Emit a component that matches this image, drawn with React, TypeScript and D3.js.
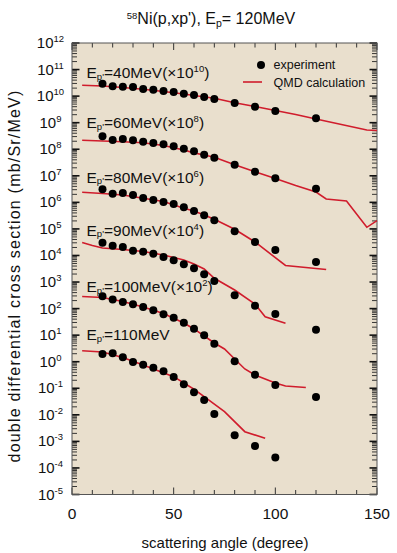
import React from "react";
import * as d3 from "d3";

// ---------- data ----------
const expAngles = [15, 20, 25, 30, 35, 40, 45, 50, 55, 60, 65, 70, 80, 90, 100, 120];
const exp40 = [2.94e10, 2.34e10, 2.27e10, 2.2e10, 1.85e10, 1.75e10, 1.56e10, 1.43e10, 1.23e10, 1.1e10, 9.3e9, 7.8e9, 5.5e9, 4.0e9, 2.75e9, 1.46e9];
const exp60 = [3.07e8, 2.23e8, 2.43e8, 2.17e8, 1.92e8, 1.72e8, 1.53e8, 1.29e8, 1.05e8, 8.4e7, 6.2e7, 4.8e7, 2.62e7, 1.43e7, 8.0e6, 3.27e6];
const exp80 = [3.1e6, 2.12e6, 2.25e6, 1.89e6, 1.46e6, 1.23e6, 1.03e6, 8.7e5, 6.5e5, 4.7e5, 3.26e5, 2.11e5, 8.1e4, 3.2e4, 1.61e4, 5.7e3];
const exp90 = [3.03e4, 2.33e4, 2.08e4, 1.51e4, 1.39e4, 1.17e4, 8.8e3, 6.6e3, 4.66e3, 3.29e3, 1.95e3, 1.09e3, 317, 129, 62.6, 16.1];
const exp100 = [290, 220, 177, 145, 115, 86, 61, 45.4, 29.4, 17.5, 9.9, 4.77, 1.04, 0.324, 0.133, 0.047];
const exp110 = [1.95, 2.08, 1.47, 0.975, 0.773, 0.596, 0.436, 0.266, 0.141, 0.0706, 0.0362, 0.0108, 0.0017, 6.7e-4, 2.48e-4];

const calc40Angles = [5, 15, 25, 35, 45, 55, 60, 70, 80, 90, 100, 110, 120, 145, 150];
const calc40 = [2.55e10, 2.4e10, 2.11e10, 1.81e10, 1.49e10, 1.2e10, 1.05e10, 8.3e9, 5.65e9, 4.06e9, 2.88e9, 2.03e9, 1.38e9, 5.3e8, 5.1e8];
const calc60Angles = [5, 15, 25, 35, 45, 55, 60, 65, 70, 80, 90, 100, 110, 120, 125, 135, 145, 150];
const calc60 = [2.17e8, 2.04e8, 1.92e8, 1.76e8, 1.38e8, 9.4e7, 7.3e7, 6.1e7, 4.97e7, 2.62e7, 1.43e7, 7.9e6, 4.3e6, 2.45e6, 1.34e6, 1.13e6, 1.15e5, 2.04e5];
const calc80Angles = [5, 15, 25, 35, 45, 55, 60, 65, 70, 80, 90, 105, 125];
const calc80 = [2.39e6, 2.15e6, 1.89e6, 1.42e6, 1.08e6, 5.97e5, 4.73e5, 3.34e5, 2.3e5, 9.7e4, 3.22e4, 4.2e3, 2.97e3];
const calc90Angles = [5, 10, 15, 25, 35, 45, 55, 60, 65, 70, 80, 90, 95, 105];
const calc90 = [3.08e4, 2.38e4, 1.91e4, 1.68e4, 1.41e4, 1.04e4, 6.8e3, 4.78e3, 3.1e3, 1.38e3, 501, 149, 49.5, 27.9];
const calc100Angles = [5, 15, 25, 35, 45, 55, 60, 70, 75, 80, 85, 90, 100, 105, 115];
const calc100 = [286, 262, 185, 115, 65.5, 28.7, 17.1, 5.07, 3.01, 1.26, 0.532, 0.316, 0.158, 0.122, 0.107];
const calc110Angles = [5, 15, 25, 35, 50, 60, 65, 75, 85, 95];
const calc110 = [2.6, 2.32, 1.44, 0.753, 0.273, 0.0916, 0.0482, 0.0131, 0.00232, 0.00131];

const energies = ["40", "60", "80", "90", "100", "110"];
const factors = ["10", "8", "6", "4", "2", ""];
const labelValues = [4.8e10, 6.3e8, 5.4e6, 5.6e4, 4.2e2, 6.3];

const xTickLabels = [0, 50, 100, 150];
const yDecades = d3.range(-5, 13);

const expSeries = [exp40, exp60, exp80, exp90, exp100, exp110];
const calcSeries = [
  [calc40Angles, calc40],
  [calc60Angles, calc60],
  [calc80Angles, calc80],
  [calc90Angles, calc90],
  [calc100Angles, calc100],
  [calc110Angles, calc110],
];

// ---------- layout ----------
const W = 397, H = 553;
const L = 72, R = 377, T = 43, B = 494.5;
const FONT = "'Liberation Sans', Arial, Helvetica, sans-serif";
const RED = "#d01c2c";

export default function App() {
  const x = d3.scaleLinear().domain([0, 150]).range([L, R]);
  const y = d3.scaleLog().domain([1e-5, 1e12]).range([B, T]);
  const line = d3
    .line<[number, number]>()
    .x((d) => x(d[0]))
    .y((d) => y(d[1]));

  const minorY: number[] = [];
  for (let d = -5; d < 12; d++) for (let k = 2; k <= 9; k++) minorY.push(k * Math.pow(10, d));
  const xTicks = d3.range(0, 151, 10);

  return (
    <svg width={W} height={H} style={{ position: "absolute", left: 0, top: 0, background: "#fff" }} fontFamily={FONT}>
      <rect x={0} y={0} width={W} height={H} fill="#fff" />
      {/* title */}
      <text x={211} y={24} fontSize={16} textAnchor="middle" fill="#111">
        <tspan fontSize={9.5} dy={-5}>58</tspan>
        <tspan dy={5}>Ni(p,xp'), E</tspan>
        <tspan fontSize={10.5} dy={3}>p</tspan>
        <tspan dy={-3}>= 120MeV</tspan>
      </text>

      {/* plot background */}
      <rect x={L} y={T} width={R - L} height={B - T} fill="#e9dfcd" />

      {/* y ticks */}
      {minorY.map((v, i) => (
        <g key={"my" + i} stroke="#222" strokeWidth={0.9}>
          <line x1={L} x2={L + 5} y1={y(v)} y2={y(v)} />
          <line x1={R} x2={R - 5} y1={y(v)} y2={y(v)} />
        </g>
      ))}
      {yDecades.map((d) => (
        <g key={"My" + d} stroke="#111" strokeWidth={1.6}>
          <line x1={L} x2={L + 7.5} y1={y(Math.pow(10, d))} y2={y(Math.pow(10, d))} />
          <line x1={R} x2={R - 7.5} y1={y(Math.pow(10, d))} y2={y(Math.pow(10, d))} />
        </g>
      ))}
      {/* x ticks */}
      {xTicks.map((t) => {
        const len = t % 50 === 0 ? 7 : 4.5;
        return (
          <g key={"xt" + t} stroke="#333" strokeWidth={1}>
            <line x1={x(t)} x2={x(t)} y1={B} y2={B - len} />
            <line x1={x(t)} x2={x(t)} y1={T} y2={T + len} />
          </g>
        );
      })}
      {/* frame */}
      <rect x={L} y={T} width={R - L} height={B - T} fill="none" stroke="#555" strokeWidth={1} />

      {/* y tick labels */}
      {yDecades.map((d) => (
        <text key={"yl" + d} x={50.5} y={y(Math.pow(10, d)) + 5} fontSize={15} textAnchor="middle" fill="#111">
          10
          <tspan fontSize={9.5} dy={-6}>{d < 0 ? "-" + Math.abs(d) : String(d)}</tspan>
        </text>
      ))}
      {/* x tick labels */}
      {xTickLabels.map((t) => (
        <text key={"xl" + t} x={x(t)} y={519} fontSize={15.5} textAnchor="middle" fill="#111">
          {t}
        </text>
      ))}

      {/* axis titles */}
      <text x={225} y={548} fontSize={15} textAnchor="middle" fill="#111">
        scattering angle (degree)
      </text>
      <text
        transform={`translate(19.5,276) rotate(-90)`}
        fontSize={16}
        letterSpacing={1.2}
        textAnchor="middle"
        fill="#111"
      >
        double differential cross section (mb/Sr/MeV)
      </text>

      {/* calc lines */}
      {calcSeries.map(([a, v], i) => (
        <path key={"c" + i} d={line(a.map((ang, j) => [ang, v[j]] as [number, number])) || ""} fill="none" stroke={RED} strokeWidth={1.6} />
      ))}
      {/* experiment points */}
      {expSeries.map((s, i) =>
        s.map((v, j) => <circle key={"e" + i + "-" + j} cx={x(expAngles[j])} cy={y(v)} r={4} fill="#000" />)
      )}

      {/* series labels */}
      {energies.map((e, i) => (
        <text key={"lab" + i} x={86.5} y={y(labelValues[i])} fontSize={15.5} fill="#111">
          E
          <tspan fontSize={9.5} dy={1.5}>p'</tspan>
          <tspan dy={-1.5}>{"=" + e + "MeV"}</tspan>
          {factors[i] ? (
            <>
              <tspan>(×10</tspan>
              <tspan fontSize={9.5} dy={-6}>{factors[i]}</tspan>
              <tspan dy={6}>)</tspan>
            </>
          ) : null}
        </text>
      ))}

      {/* legend */}
      <circle cx={261} cy={65} r={4} fill="#000" />
      <text x={273.5} y={69} fontSize={12.5} fill="#111">experiment</text>
      <line x1={243} x2={262} y1={82} y2={82} stroke={RED} strokeWidth={1.6} />
      <text x={273.5} y={86.5} fontSize={12.5} fill="#111">QMD calculation</text>
    </svg>
  );
}
